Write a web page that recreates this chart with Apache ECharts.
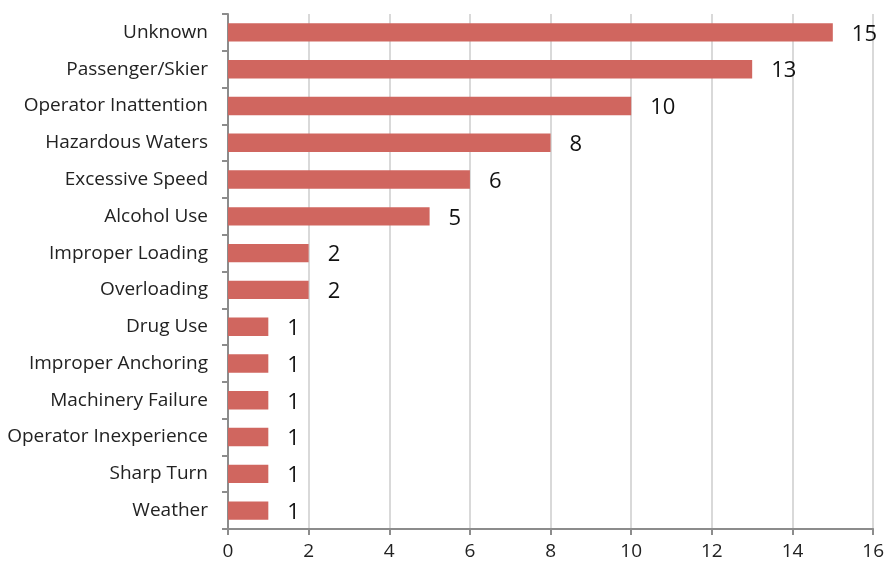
<!DOCTYPE html>
<html><head><meta charset="utf-8">
<script src="https://cdn.jsdelivr.net/npm/echarts@6/dist/echarts.min.js"></script>
<style>html,body{margin:0;padding:0;background:#fff}#c{width:887px;height:563px}</style>
</head><body><div id="c"></div>
<script>
var categories = ["Unknown","Passenger/Skier","Operator Inattention","Hazardous Waters","Excessive Speed","Alcohol Use","Improper Loading","Overloading","Drug Use","Improper Anchoring","Machinery Failure","Operator Inexperience","Sharp Turn","Weather"];
var values = [15,13,10,8,6,5,2,2,1,1,1,1,1,1];
var chart = echarts.init(document.getElementById('c'), null, {renderer:'canvas'});
var font = "'Open Sans', sans-serif";
chart.setOption({
  animation:false,
  grid:{left:228,right:12,top:14,bottom:34,containLabel:false},
  xAxis:{type:'value',min:0,max:16,interval:2,
    axisLine:{show:true,lineStyle:{color:'#8c8c8c',width:2}},
    axisTick:{show:true,length:6,lineStyle:{color:'#8c8c8c',width:2}},
    splitLine:{show:true,lineStyle:{color:'#d9d9d9',width:2}},
    axisLabel:{color:'#222',fontSize:19,fontFamily:font,margin:13}},
  yAxis:{type:'category',inverse:true,data:categories,
    axisLine:{show:true,lineStyle:{color:'#8c8c8c',width:2}},
    axisTick:{show:true,length:6,lineStyle:{color:'#8c8c8c',width:2}},
    axisLabel:{color:'#222',fontSize:19,fontFamily:font,margin:20}},
  series:[{type:'bar',data:values,barWidth:'50%',
    itemStyle:{color:'#d0665f'},
    label:{show:true,position:'right',distance:19,offset:[0,2],color:'#111',fontSize:22,fontFamily:font}}]
});
</script></body></html>
